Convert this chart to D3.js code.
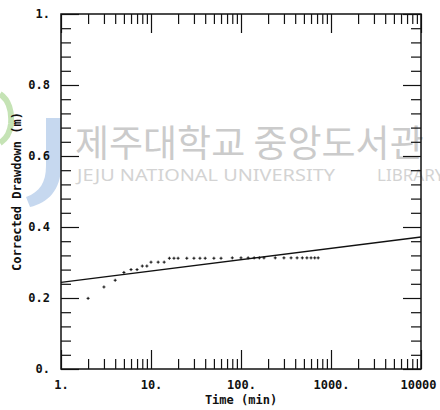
<!DOCTYPE html>
<html>
<head>
<meta charset="utf-8">
<script src="https://cdn.jsdelivr.net/npm/d3@7"></script>
<style>
  html, body { margin: 0; padding: 0; background: #fff; }
  svg { display: block; }
  .lbl { font-family: "DejaVu Sans Mono", monospace; font-weight: bold; font-size: 12px; fill: #111; }
  .tick line { stroke: #111; stroke-width: 1.2; }
</style>
</head>
<body>
<svg id="chart" width="440" height="410"></svg>
<script>
// Corrected drawdown vs time (semi-log), recreated with D3

// --- Data ---
const times = [2, 3, 4, 5, 6, 7, 8, 9, 10, 12, 14, 16, 18, 20, 25, 30, 35, 40, 50, 60,
  80, 100, 120, 140, 160, 180, 240, 300, 360, 420, 480, 540, 600, 660, 720];
const drawdowns = [0.199, 0.231, 0.250, 0.272, 0.280, 0.280, 0.290, 0.290, 0.301, 0.301, 0.301,
  0.312, 0.312, 0.312, 0.312, 0.312, 0.312, 0.312, 0.312, 0.312,
  0.313, 0.313, 0.313, 0.313, 0.313, 0.313, 0.313, 0.313, 0.313, 0.313, 0.313, 0.313, 0.313, 0.313, 0.313];
const fitTimes = [1, 10000];
const fitDrawdowns = [0.244, 0.372];

const xMajor = [1, 10, 100, 1000, 10000];
const xTickLabels = ["1.", "10.", "100.", "1000.", "10000"];
const yMajor = [0, 0.2, 0.4, 0.6, 0.8, 1];
const yTickLabels = ["0.", "0.2", "0.4", "0.6", "0.8", "1."];
const yMinor = [0.04, 0.08, 0.12, 0.16, 0.24, 0.28, 0.32, 0.36, 0.44, 0.48, 0.52, 0.56,
  0.64, 0.68, 0.72, 0.76, 0.84, 0.88, 0.92, 0.96];
const xMinor = [];
[1, 10, 100, 1000].forEach(d => { for (let k = 2; k <= 9; k++) xMinor.push(d * k); });

// --- Layout ---
const W = 440, H = 410;
const m = { left: 61, right: 19, top: 14, bottom: 41 };
const svg = d3.select("#chart");

const x = d3.scaleLog().domain([1, 10000]).range([m.left, W - m.right]);
const y = d3.scaleLinear().domain([0, 1]).range([H - m.bottom, m.top]);

// --- Watermark (library stamp behind the plot) ---
const wm = svg.append("g").attr("class", "watermark");
wm.append("path")
  .attr("d", "M46,118 L61,118 L61,166 C61,190 48,203 30,207 L26,197 C40,192 46,182 46,166 Z")
  .attr("fill", "#b3cbea").attr("opacity", 0.75);
wm.append("path")
  .attr("d", "M0,94 C9,100 12,112 11,124 C10,133 6,139 0,143")
  .attr("fill", "none").attr("stroke", "#b7dca3").attr("stroke-width", 6).attr("opacity", 0.8);
wm.append("text")
  .attr("x", 75).attr("y", 157)
  .attr("font-family", "'Noto Sans CJK KR', sans-serif")
  .attr("font-size", 37)
  .attr("fill", "#cbcbcb")
  .text("제주대학교 중앙도서관");
wm.append("text")
  .attr("x", 77).attr("y", 181)
  .attr("font-family", "'Noto Sans', sans-serif")
  .attr("font-size", 17)
  .attr("fill", "#d3d3d3")
  .attr("textLength", 258).attr("lengthAdjust", "spacingAndGlyphs")
  .text("JEJU NATIONAL UNIVERSITY");
wm.append("text")
  .attr("x", 377).attr("y", 181)
  .attr("font-family", "'Noto Sans', sans-serif")
  .attr("font-size", 17)
  .attr("fill", "#d3d3d3")
  .text("LIBRARY");

// --- Axes (ticks inside on all four sides) ---
const bottomY = H - m.bottom, rightX = W - m.right;

function addAxis(axis, tx, ty) {
  const g = svg.append("g").attr("transform", `translate(${tx},${ty})`).call(axis);
  g.select(".domain").remove();
  return g;
}

addAxis(d3.axisBottom(x).tickValues(xMajor).tickSize(-19).tickPadding(11)
  .tickFormat((d, i) => xTickLabels[i]), 0, bottomY)
  .selectAll("text").attr("class", "lbl");
addAxis(d3.axisBottom(x).tickValues(xMinor).tickSize(-10).tickFormat(""), 0, bottomY);
addAxis(d3.axisTop(x).tickValues(xMajor).tickSize(-19).tickFormat(""), 0, m.top);
addAxis(d3.axisTop(x).tickValues(xMinor).tickSize(-10).tickFormat(""), 0, m.top);

addAxis(d3.axisLeft(y).tickValues(yMajor).tickSize(-18).tickPadding(11)
  .tickFormat((d, i) => yTickLabels[i]), m.left, 0)
  .selectAll("text").attr("class", "lbl");
addAxis(d3.axisLeft(y).tickValues(yMinor).tickSize(-10).tickFormat(""), m.left, 0);
addAxis(d3.axisRight(y).tickValues(yMajor).tickSize(-18).tickFormat(""), rightX, 0);
addAxis(d3.axisRight(y).tickValues(yMinor).tickSize(-10).tickFormat(""), rightX, 0);

// last x label is pulled in a little so it stays inside the page
svg.selectAll("text.lbl").filter(function () { return this.textContent === "10000"; })
  .attr("dx", -3);

// frame
svg.append("rect")
  .attr("x", m.left).attr("y", m.top)
  .attr("width", rightX - m.left).attr("height", bottomY - m.top)
  .attr("fill", "none").attr("stroke", "#111").attr("stroke-width", 1.5);

// --- Fitted straight line ---
const fit = fitTimes.map((t, i) => ({ t, s: fitDrawdowns[i] }));
svg.append("path")
  .datum(fit)
  .attr("fill", "none").attr("stroke", "#111").attr("stroke-width", 1.4)
  .attr("d", d3.line().x(d => x(d.t)).y(d => y(d.s)));

// --- Observed points ---
const pts = times.map((t, i) => ({ t, s: drawdowns[i] }));
svg.append("g").selectAll("path")
  .data(pts)
  .join("path")
  .attr("transform", d => `translate(${x(d.t)},${y(d.s)})`)
  .attr("d", "M-1.5,0H1.5M0,-1.5V1.5")
  .attr("stroke", "#111").attr("stroke-width", 1);

// --- Axis titles ---
svg.append("text").attr("class", "lbl")
  .attr("x", (m.left + rightX) / 2).attr("y", 404)
  .attr("text-anchor", "middle")
  .text("Time (min)");
svg.append("text").attr("class", "lbl")
  .attr("transform", `translate(21,${(m.top + bottomY) / 2}) rotate(-90)`)
  .attr("text-anchor", "middle")
  .text("Corrected Drawdown (m)");
</script>
</body>
</html>
